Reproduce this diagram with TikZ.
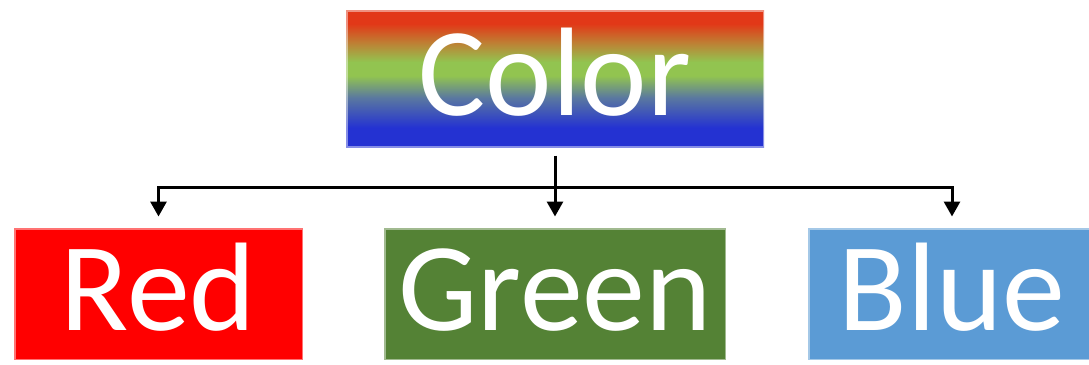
\documentclass[tikz,border=0pt]{standalone}
\usepackage{fontspec}
\setmainfont{Carlito}
\usetikzlibrary{arrows.meta}
\definecolor{cred}{RGB}{226,56,24}
\definecolor{corange}{RGB}{190,128,52}
\definecolor{cgreen}{RGB}{146,196,80}
\definecolor{cgrey}{RGB}{90,120,160}
\definecolor{cblue}{RGB}{36,50,210}
\definecolor{boxred}{RGB}{255,0,0}
\definecolor{boxgreen}{RGB}{84,130,53}
\definecolor{boxblue}{RGB}{91,155,213}
\pgfdeclareverticalshading{rainbow}{100bp}{color(0bp)=(cblue); color(32bp)=(cblue); color(43bp)=(cgrey); color(51bp)=(cgreen); color(56bp)=(cgreen); color(63bp)=(corange); color(70bp)=(cred); color(100bp)=(cred)}
\tikzset{
  catbox/.style={inner sep=0pt, text=white, font=\fontsize{126}{130}\selectfont,
    draw=white, draw opacity=0.45, line width=3pt},
  leafbox/.style={catbox, minimum height=132pt, text height=102pt, text depth=30pt},
  conn/.style={line width=3pt, -{Triangle[width=16pt,length=15pt]}},
}
\begin{document}
\begin{tikzpicture}[x=1pt,y=-1pt]
\useasboundingbox (0,0) rectangle (1089,364);
\clip (0,0) rectangle (1089,364);
\node[catbox, shading=rainbow, minimum width=418pt, minimum height=137pt, text height=105pt, text depth=32pt] (color) at (555,78.5) {Color};
\node[leafbox, fill=boxred, minimum width=289pt] (red) at (158.5,294) {Red};
\node[leafbox, fill=boxgreen, minimum width=342pt] (green) at (555,294) {Green};
\node[leafbox, fill=boxblue, minimum width=288pt] (blue) at (952,294) {Blue};
\coordinate (hj) at (555,187);
\draw[conn] ([yshift=-7pt]color.south) -- ([yshift=10pt]green.north);
\draw[conn] (hj) -| ([yshift=10pt]red.north);
\draw[conn] (hj) -| ([yshift=10pt]blue.north);
\end{tikzpicture}
\end{document}
